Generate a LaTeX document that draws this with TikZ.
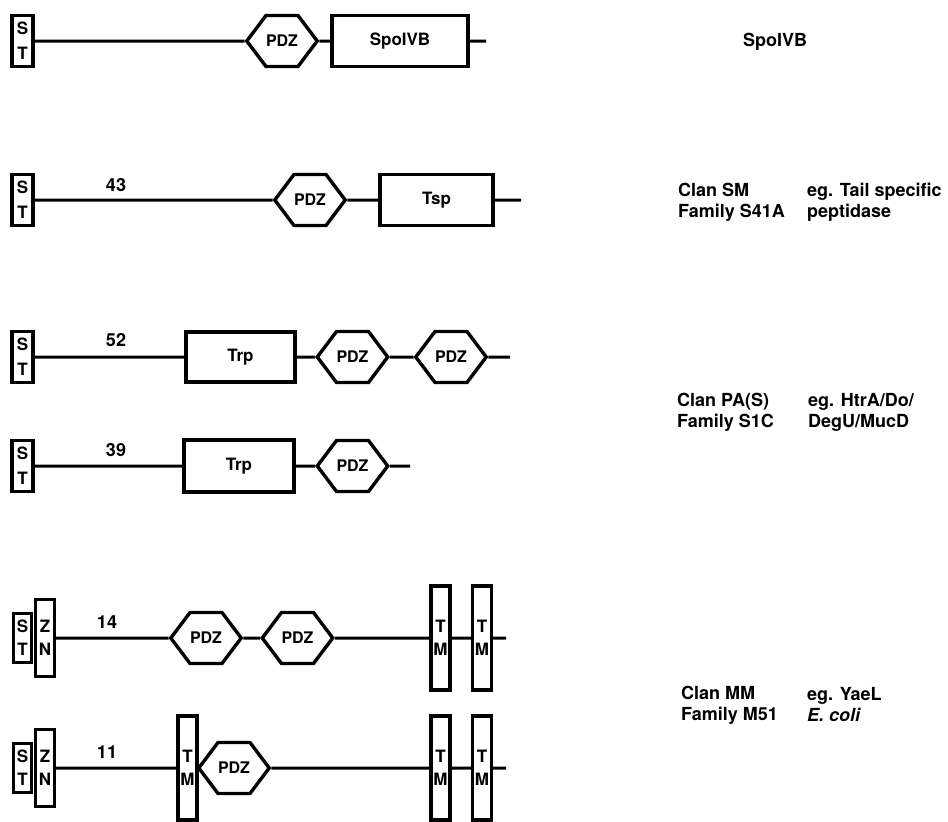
\documentclass[tikz,border=0pt]{standalone}
\usepackage{fontspec}
\setmainfont{TeX Gyre Heros}
\usetikzlibrary{shapes.symbols}
\tikzset{
  dom/.style={draw,line width=3.4pt,fill=white,inner sep=0pt,font=\bfseries\fontsize{17}{20}\selectfont},
  stbox/.style={dom,minimum width=21,minimum height=51,align=center,font=\bfseries\fontsize{17}{25}\selectfont},
  znbox/.style={dom,minimum width=19,minimum height=77,align=center,font=\bfseries\fontsize{17}{23}\selectfont},
  tmbox/.style={dom,minimum width=19,minimum height=104,align=center,font=\bfseries\fontsize{17}{23}\selectfont},
  pdz/.style={dom,shape=signal,signal to=west and east,signal pointer angle=106,
    minimum width=65,minimum height=51,font=\bfseries\fontsize{16}{18}\selectfont},
  link/.style={line width=3pt},
  num/.style={font=\bfseries\fontsize{18}{20}\selectfont,inner sep=0pt},
  lab/.style={anchor=west,align=left,inner sep=0pt,font=\bfseries\fontsize{18}{21}\selectfont}
}
\begin{document}
\begin{tikzpicture}[x=1pt,y=-1pt]
  \useasboundingbox (0,0) rectangle (948,822);
  \clip (0,0) rectangle (948,822);
  % signal peptide boxes
  \foreach \n/\y in {1/41,2/200,3/357,4/466}
    \node[stbox] (st\n) at (22.5,\y) {S\\T};
  \foreach \n/\y in {5/638,6/768}{
    \node[stbox,minimum width=18,minimum height=49,font=\bfseries\fontsize{17}{23}\selectfont] (st\n) at (22.5,\y) {S\\T};
    \node[znbox] (zn\n) at (45,\y) {Z\\N};}
  % SpoIVB
  \node[pdz] (pdz1) at (282,41) {PDZ};
  \node[dom,minimum width=136,minimum height=51] (spo) at (400,41) {SpoIVB};
  \coordinate (e1) at (486,41);
  \draw[link] (st1) -- (pdz1) -- (spo) -- (e1);
  % Tsp
  \node[num] (n2) at (116,185) {43};
  \node[pdz] (pdz2) at (310,200) {PDZ};
  \node[dom,minimum width=113,minimum height=51] (tsp) at (436.5,200) {Tsp};
  \coordinate (e2) at (521,200);
  \draw[link] (st2) -- (pdz2) -- (tsp) -- (e2);
  % HtrA
  \node[num] (n3) at (116,340) {52};
  \node[dom,minimum width=109,minimum height=50] (trp3) at (240.5,357) {Trp};
  \node[pdz] (pdz3a) at (352.5,357) {PDZ};
  \node[pdz] (pdz3b) at (451,357) {PDZ};
  \coordinate (e3) at (510,357);
  \draw[link] (st3) -- (trp3) -- (pdz3a) -- (pdz3b) -- (e3);
  \node[num] (n4) at (116,450) {39};
  \node[dom,minimum width=110,minimum height=52] (trp4) at (239,466) {Trp};
  \node[pdz] (pdz4) at (352.5,466) {PDZ};
  \coordinate (e4) at (410,466);
  \draw[link] (st4) -- (trp4) -- (pdz4) -- (e4);
  % YaeL
  \node[num] (n5) at (107,622) {14};
  \node[pdz] (pdz5a) at (206,638) {PDZ};
  \node[pdz] (pdz5b) at (297.5,638) {PDZ};
  \node[tmbox] (tm5a) at (440.5,638) {T\\M};
  \node[tmbox] (tm5b) at (482,638) {T\\M};
  \coordinate (e5) at (506,638);
  \draw[link] (zn5) -- (pdz5a) -- (pdz5b) -- (tm5a) -- (tm5b) -- (e5);
  \node[num] (n6) at (107,752) {11};
  \node[tmbox] (tm6a) at (187.5,768) {T\\M};
  \node[pdz] (pdz6) at (234,768) {PDZ};
  \node[tmbox] (tm6b) at (440.5,768) {T\\M};
  \node[tmbox] (tm6c) at (482,768) {T\\M};
  \coordinate (e6) at (506,768);
  \draw[link] (zn6) -- (tm6a) -- (pdz6) -- (tm6b) -- (tm6c) -- (e6);
  % families
  \node[lab] (f1) at (743,42) {SpoIVB};
  \node[lab] (f2) at (678,202) {Clan SM\\Family S41A};
  \node[lab] (g2) at (807,202) {eg. Tail specific\\peptidase};
  \node[lab] (f3) at (677,412) {Clan PA(S)\\Family S1C};
  \node[lab] (g3) at (808,412) {eg. HtrA/Do/\\DegU/MucD};
  \node[lab] (f4) at (681,705) {Clan MM\\Family M51};
  \node[lab] (g4) at (807,705) {eg. YaeL\\\textit{E. coli}};
\end{tikzpicture}
\end{document}
